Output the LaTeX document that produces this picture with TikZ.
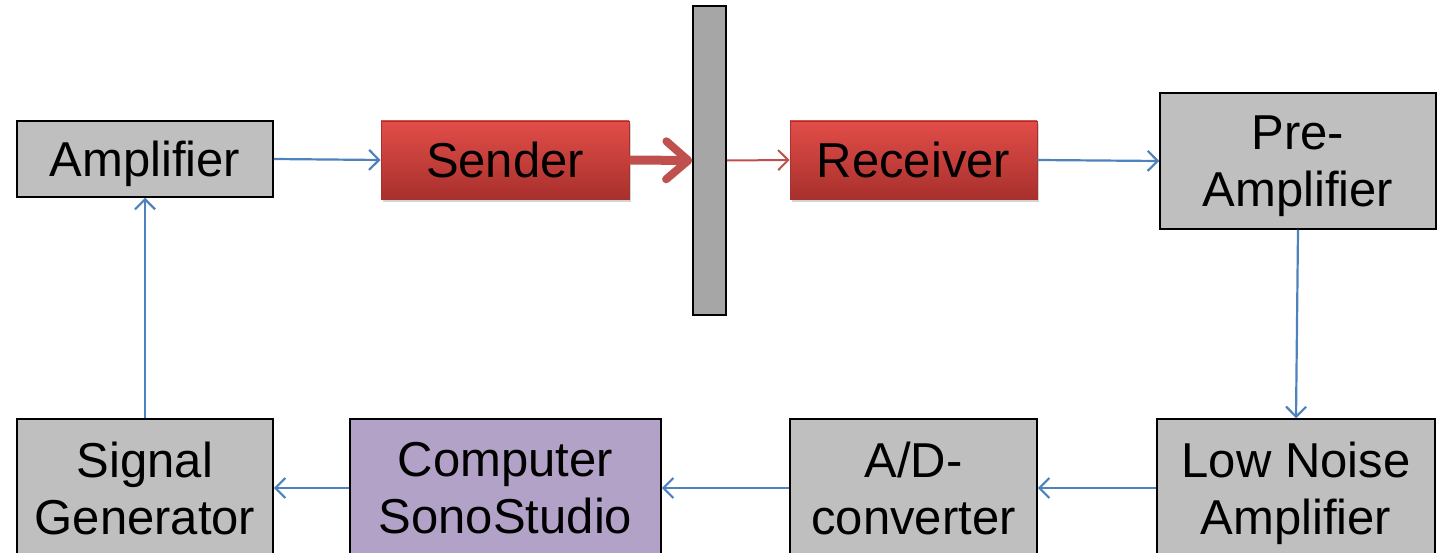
\documentclass[tikz,border=0pt]{standalone}
\usepackage{fontspec}
\setmainfont{Liberation Sans}
\usetikzlibrary{arrows.meta,shadows}
\definecolor{boxgray}{HTML}{BFBFBF}
\definecolor{wallgray}{HTML}{A6A6A6}
\definecolor{purp}{HTML}{B3A2C7}
\definecolor{lineblue}{HTML}{4F81BD}
\definecolor{redline}{HTML}{C0504D}
\definecolor{redtop}{HTML}{E24D48}
\definecolor{redbot}{HTML}{A8302D}
\tikzset{
  box/.style={draw=black, line width=1.5pt, fill=boxgray, inner sep=0pt, align=center,
    text depth=0pt, font=\fontsize{49}{57}\selectfont},
  redbox/.style={draw=redbot, line width=0.8pt, top color=redtop, bottom color=redbot,
    drop shadow={shadow xshift=2pt, shadow yshift=-3pt, opacity=0.35},
    inner sep=0pt, align=center, text depth=0pt, font=\fontsize{49}{57}\selectfont},
  blue/.style={draw=lineblue, line width=2.2pt, -{Straight Barb[length=10pt,width=20pt,line width=2.2pt]}},
  thickred/.style={draw=redline, line width=9pt, -{Straight Barb[length=22pt,width=38pt,line width=8pt,round]}},
  thinred/.style={draw=redline, line width=2pt, -{Straight Barb[length=10pt,width=20pt,line width=2pt]}}
}
\begin{document}
\begin{tikzpicture}[x=1pt,y=-1pt]
\useasboundingbox (0,0) rectangle (1440,553);
\begin{scope}
\clip (0,0) rectangle (1440,553);
\node[box, minimum width=256pt, minimum height=76pt] (amp) at (145,159) {Amplifier};
\node[redbox, minimum width=248pt, minimum height=78pt] (send) at (505,160) {Sender};
\node[draw=black, line width=1.5pt, fill=wallgray, minimum width=33pt, minimum height=309pt, inner sep=0pt] (wall) at (709.5,160.5) {};
\node[redbox, minimum width=247pt, minimum height=78pt] (recv) at (913.5,160) {Receiver};
\node[box, minimum width=276pt, minimum height=136pt] (pre) at (1298,161) {Pre-\\Amplifier};
\node[box, minimum width=278pt, minimum height=138pt] (lna) at (1296,488) {Low Noise\\Amplifier};
\node[box, minimum width=247pt, minimum height=138pt] (ad) at (913.5,488) {A/D-\\converter};
\node[box, fill=purp, minimum width=311pt, minimum height=138pt] (comp) at (505.5,488) {Computer\\SonoStudio};
\node[box, minimum width=256pt, minimum height=138pt] (sig) at (145,488) {Signal\\Generator};
\draw[blue] (amp.east) -- (send.west);
\draw[thickred] (send.east) -- (wall.west);
\draw[thinred] (wall.east) -- (recv.west);
\draw[blue] (recv.east) -- (pre.west);
\draw[blue] (pre.south) -- (lna.north);
\draw[blue] (lna.west) -- (ad.east);
\draw[blue] (ad.west) -- (comp.east);
\draw[blue] (comp.west) -- (sig.east);
\draw[blue] (sig.north) -- (amp.south);
\end{scope}
\end{tikzpicture}
\end{document}
